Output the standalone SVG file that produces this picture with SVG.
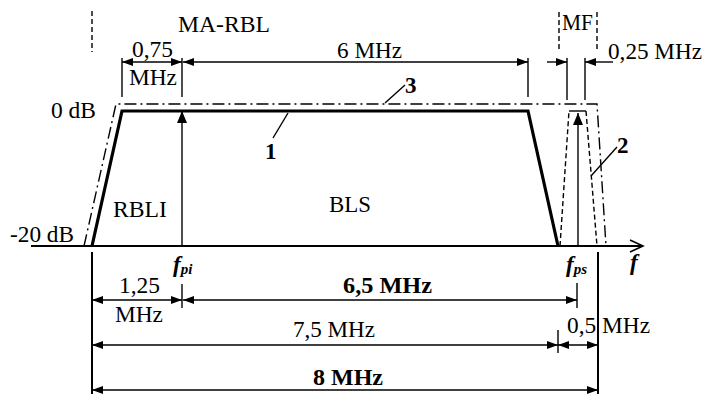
<svg xmlns="http://www.w3.org/2000/svg" width="704" height="394" viewBox="0 0 704 394">
<style>
.t{font-family:"Liberation Serif","Times New Roman",serif;font-size:23px;fill:#000}
.b{font-weight:bold}
.i{font-style:italic;font-weight:bold}
.dim{stroke:#000;stroke-width:1.4;fill:none}
.ext{stroke:#000;stroke-width:1.4;fill:none}
.dash{stroke:#000;stroke-width:1.4;fill:none;stroke-dasharray:5 3}
.dd{stroke:#000;stroke-width:1.4;fill:none;stroke-dasharray:12 4 2 4}
.thick{stroke:#000;stroke-width:3.2;fill:none;stroke-linejoin:miter}
</style>
<defs>
<marker id="ah" viewBox="0 0 11 8" refX="11" refY="4" markerWidth="11" markerHeight="8" markerUnits="userSpaceOnUse" orient="auto-start-reverse">
<path d="M0,0 L11,4 L0,8 z" fill="#000"/>
</marker>
<marker id="ahb" viewBox="0 0 12 10" refX="12" refY="5" markerWidth="12" markerHeight="10" markerUnits="userSpaceOnUse" orient="auto-start-reverse">
<path d="M0,0 L12,5 L0,10 z" fill="#000"/>
</marker>
</defs>

<g id="axis">
<line x1="31" y1="246" x2="642" y2="246" stroke="#000" stroke-width="2"/>
<polyline points="630,240 643,246 630,252" fill="none" stroke="#000" stroke-width="1.6"/>
<text class="t i" x="630" y="270">f</text>
</g>

<g id="curve1">
<polyline class="thick" points="92,246 122,111 528,111 558,246"/>
</g>
<g id="curve3">
<polyline class="dd" points="84,246 116,104 597,104 606,246"/>
</g>
<g id="curve2">
<polyline class="dash" points="560,246 569,111"/>
<polyline class="dash" points="586,111 597,246"/>
<line x1="569" y1="111" x2="586" y2="111" stroke="#000" stroke-width="1.4"/>
</g>

<g id="carriers">
<line x1="182" y1="246" x2="182" y2="111" stroke="#000" stroke-width="1.4" marker-end="url(#ahb)"/>
<line x1="578" y1="246" x2="578" y2="113" stroke="#000" stroke-width="1.4" marker-end="url(#ahb)"/>
</g>

<g id="labels">
<text class="t" x="51" y="118" textLength="45" lengthAdjust="spacingAndGlyphs">0 dB</text>
<text class="t" x="10" y="242" textLength="64" lengthAdjust="spacingAndGlyphs">-20 dB</text>
<text class="t" x="113" y="217" textLength="54" lengthAdjust="spacingAndGlyphs">RBLI</text>
<text class="t" x="329" y="212" textLength="42" lengthAdjust="spacingAndGlyphs">BLS</text>
<text class="t b" x="265" y="159">1</text>
<text class="t b" x="405" y="93">3</text>
<text class="t b" x="617" y="153">2</text>
<text class="t i" x="173" y="272">f<tspan font-size="15" dy="2">pi</tspan></text>
<text class="t i" x="566" y="272">f<tspan font-size="15" dy="2">ps</tspan></text>
</g>

<g id="leaders">
<line class="ext" x1="288" y1="113" x2="273" y2="138"/>
<line class="ext" x1="385" y1="103" x2="405" y2="85"/>
<line class="ext" x1="591" y1="176" x2="617" y2="147"/>
</g>

<g id="top-dims">
<line class="dash" x1="92" y1="11" x2="92" y2="52"/>
<line class="dash" x1="559" y1="12" x2="559" y2="50"/>
<line class="dash" x1="597" y1="12" x2="597" y2="50"/>
<line class="ext" x1="122" y1="58" x2="122" y2="97"/>
<line class="ext" x1="182" y1="58" x2="182" y2="97"/>
<line class="ext" x1="528" y1="58" x2="528" y2="97"/>
<line class="ext" x1="567" y1="58" x2="567" y2="100"/>
<line class="ext" x1="585" y1="58" x2="585" y2="100"/>
<line class="dim" x1="122" y1="62" x2="182" y2="62" marker-start="url(#ah)" marker-end="url(#ah)"/>
<line class="dim" x1="183" y1="62" x2="528" y2="62" marker-start="url(#ah)" marker-end="url(#ah)"/>
<line class="dim" x1="547" y1="62" x2="567" y2="62" marker-end="url(#ah)"/>
<line class="dim" x1="613" y1="62" x2="585" y2="62" marker-end="url(#ah)"/>
<text class="t" x="178" y="32" textLength="92" lengthAdjust="spacingAndGlyphs">MA-RBL</text>
<text class="t" x="132" y="57" textLength="41" lengthAdjust="spacingAndGlyphs">0,75</text>
<text class="t" x="129" y="85" textLength="48" lengthAdjust="spacingAndGlyphs">MHz</text>
<text class="t" x="337" y="58" textLength="65" lengthAdjust="spacingAndGlyphs">6 MHz</text>
<text class="t" x="562" y="30" textLength="31" lengthAdjust="spacingAndGlyphs">MF</text>
<text class="t" x="608" y="59" textLength="94" lengthAdjust="spacingAndGlyphs">0,25 MHz</text>
</g>

<g id="bottom-dims">
<line x1="92" y1="252" x2="92" y2="394" stroke="#000" stroke-width="2"/>
<line x1="598" y1="252" x2="598" y2="394" stroke="#000" stroke-width="2"/>
<line class="ext" x1="182" y1="284" x2="182" y2="308"/>
<line class="ext" x1="577" y1="283" x2="577" y2="308"/>
<line class="ext" x1="558" y1="330" x2="558" y2="353"/>
<line class="dim" x1="92" y1="300" x2="182" y2="300" marker-start="url(#ah)" marker-end="url(#ah)"/>
<line class="dim" x1="183" y1="300" x2="577" y2="300" marker-start="url(#ah)" marker-end="url(#ah)"/>
<line class="dim" x1="92" y1="345" x2="558" y2="345" marker-start="url(#ah)" marker-end="url(#ah)"/>
<line class="dim" x1="558" y1="345" x2="598" y2="345" marker-start="url(#ah)" marker-end="url(#ah)"/>
<line class="dim" x1="92" y1="390" x2="598" y2="390" marker-start="url(#ah)" marker-end="url(#ah)"/>
<text class="t" x="119" y="293" textLength="41" lengthAdjust="spacingAndGlyphs">1,25</text>
<text class="t" x="115" y="322" textLength="48" lengthAdjust="spacingAndGlyphs">MHz</text>
<text class="t b" x="343" y="293" textLength="89" lengthAdjust="spacingAndGlyphs">6,5 MHz</text>
<text class="t" x="293" y="337" textLength="82" lengthAdjust="spacingAndGlyphs">7,5 MHz</text>
<text class="t" x="567" y="333" textLength="83" lengthAdjust="spacingAndGlyphs">0,5 MHz</text>
<text class="t b" x="313" y="385" textLength="70" lengthAdjust="spacingAndGlyphs">8 MHz</text>
</g>
</svg>
